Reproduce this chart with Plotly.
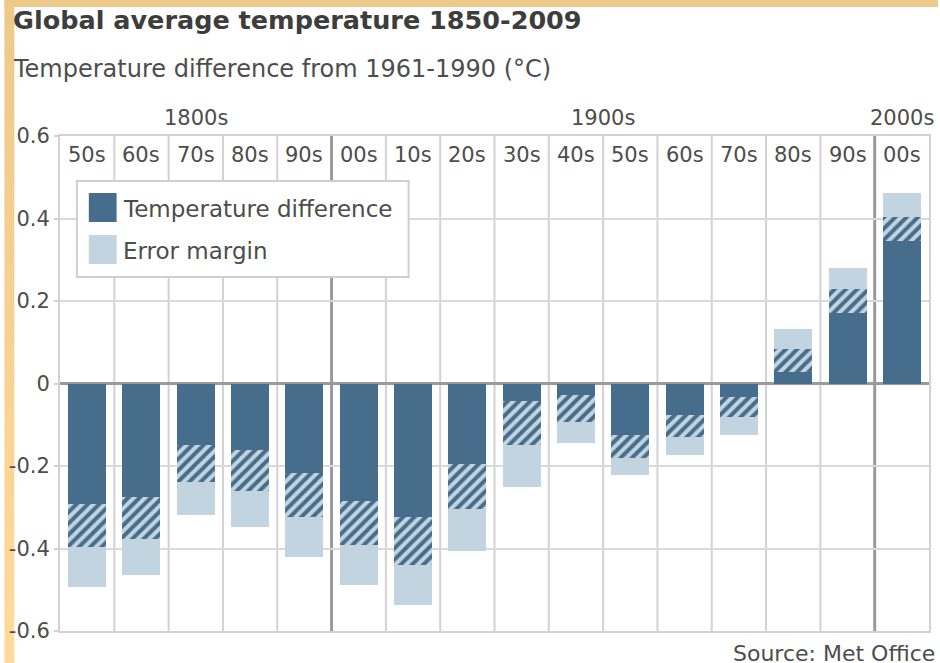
import plotly.graph_objects as go

# ---------------- data ----------------
decades = ["50s", "60s", "70s", "80s", "90s", "00s", "10s", "20s", "30s",
           "40s", "50s", "60s", "70s", "80s", "90s", "00s"]
century_of = ["1800s"] * 5 + ["1900s"] * 10 + ["2000s"]
temp_diff = [-0.397, -0.378, -0.238, -0.261, -0.324, -0.391, -0.441, -0.304,
             -0.149, -0.093, -0.180, -0.130, -0.081, 0.083, 0.229, 0.403]
err_low = [-0.494, -0.464, -0.319, -0.348, -0.421, -0.489, -0.537, -0.407,
           -0.251, -0.144, -0.222, -0.174, -0.124, 0.029, 0.172, 0.346]
err_high = [-0.291, -0.276, -0.149, -0.160, -0.218, -0.285, -0.324, -0.194,
            -0.043, -0.028, -0.125, -0.077, -0.033, 0.132, 0.281, 0.461]
y_ticks = [0.6, 0.4, 0.2, 0, -0.2, -0.4, -0.6]
y_tick_labels = ["0.6", "0.4", "0.2", "0", "-0.2", "-0.4", "-0.6"]
legend_labels = ["Temperature difference", "Error margin"]

# ---------------- style ----------------
DARK = "#476d8c"
LIGHT = "#c2d4df"
FONT = "DejaVu Sans"
TXT = "#4d4d4d"
W, H = 940, 663
L, R, T, B = 56, 9, 136, 32
PW, PH = W - L - R, H - T - B


def px_x(px):
    return (px - L) / PW


def px_y(py):
    return (H - B - py) / PH


xs = list(range(len(decades)))
near = [hi if v < 0 else lo for v, lo, hi in zip(temp_diff, err_low, err_high)]
far = [lo if v < 0 else hi for v, lo, hi in zip(temp_diff, err_low, err_high)]

fig = go.Figure()
# solid part of the temperature bar (outside the error band)
fig.add_trace(go.Bar(x=xs, y=near, base=[0] * len(xs), width=0.7,
                     marker=dict(color=DARK, line=dict(width=0)),
                     showlegend=False, hoverinfo="skip"))
# overlap of bar and error band: hatched
fig.add_trace(go.Bar(x=xs, y=[v - n for v, n in zip(temp_diff, near)], base=near,
                     width=0.7,
                     marker=dict(color=LIGHT, line=dict(width=0),
                                 pattern=dict(shape="/", fgcolor=DARK, bgcolor=LIGHT,
                                              size=8, solidity=0.5, fillmode="replace")),
                     showlegend=False, hoverinfo="skip"))
# remaining error margin
fig.add_trace(go.Bar(x=xs, y=[f - v for f, v in zip(far, temp_diff)], base=temp_diff,
                     width=0.7, marker=dict(color=LIGHT, line=dict(width=0)),
                     showlegend=False, hoverinfo="skip"))

shapes = []
# left/top orange frame
shapes.append(dict(type="rect", xref="paper", yref="paper", x0=px_x(0), x1=px_x(W),
                   y0=px_y(7), y1=px_y(0), fillcolor="#edc98a", line=dict(width=0),
                   layer="below"))
n_steps = 40
c0 = (0xed, 0xc9, 0x8a)
c1 = (0xff, 0xda, 0x9a)
for k in range(n_steps):
    t = k / (n_steps - 1)
    col = "rgb(%d,%d,%d)" % tuple(round(a + (b - a) * t) for a, b in zip(c0, c1))
    shapes.append(dict(type="rect", xref="paper", yref="paper", x0=px_x(0), x1=px_x(10),
                       y0=px_y(H * (k + 1) / n_steps + 0.5), y1=px_y(H * k / n_steps),
                       fillcolor=col, line=dict(width=0), layer="below"))

# column dividers
for i in range(1, len(decades)):
    is_century = century_of[i] != century_of[i - 1]
    shapes.append(dict(type="line", xref="x", yref="paper", x0=i - 0.5, x1=i - 0.5,
                       y0=0, y1=1, layer="below",
                       line=dict(color="#9a9a9a" if is_century else "#d2d2d2",
                                 width=3 if is_century else 2)))

# manual legend
shapes.append(dict(type="rect", xref="paper", yref="paper", x0=px_x(73), x1=px_x(407),
                   y0=px_y(277), y1=px_y(181), fillcolor="white",
                   line=dict(color="#cfcfcf", width=2), layer="above"))
annotations = []
for j, (lab, col) in enumerate(zip(legend_labels, [DARK, LIGHT])):
    top = 193 + j * 42
    shapes.append(dict(type="rect", xref="paper", yref="paper", x0=px_x(85), x1=px_x(113),
                       y0=px_y(top + 29), y1=px_y(top), fillcolor=col,
                       line=dict(width=0), layer="above"))
    annotations.append(dict(text=lab, xref="paper", yref="paper", x=px_x(117),
                            y=px_y(top + 16), xanchor="left", yanchor="middle",
                            showarrow=False, font=dict(family=FONT, size=23, color=TXT)))

# decade labels inside the top row of the grid
for i, d in enumerate(decades):
    annotations.append(dict(text=d, xref="x", yref="paper", x=i, y=px_y(155),
                            xanchor="center", yanchor="middle", showarrow=False,
                            font=dict(family=FONT, size=21, color=TXT)))

# century labels
for c in dict.fromkeys(century_of):
    idx = [i for i, cc in enumerate(century_of) if cc == c]
    annotations.append(dict(text=c, xref="x", yref="paper", x=sum(idx) / len(idx),
                            y=px_y(118), xanchor="center", yanchor="middle",
                            showarrow=False, font=dict(family=FONT, size=21, color=TXT)))

# titles and source
annotations.append(dict(text="<b>Global average temperature 1850-2009</b>", xref="paper",
                        yref="paper", x=px_x(7), y=px_y(20), xanchor="left",
                        yanchor="middle", showarrow=False,
                        font=dict(family=FONT, size=25.5, color="#3d3d3d")))
annotations.append(dict(text="Temperature difference from 1961-1990 (°C)", xref="paper",
                        yref="paper", x=px_x(7), y=px_y(69), xanchor="left",
                        yanchor="middle", showarrow=False,
                        font=dict(family=FONT, size=24, color=TXT)))
annotations.append(dict(text="Source: Met Office", xref="paper", yref="paper",
                        x=px_x(939), y=px_y(653), xanchor="right", yanchor="middle",
                        showarrow=False, font=dict(family=FONT, size=22, color=TXT)))

fig.update_layout(
    width=W, height=H, margin=dict(l=L, r=R, t=T, b=B),
    paper_bgcolor="white", plot_bgcolor="white",
    barmode="overlay", bargap=0,
    shapes=shapes, annotations=annotations,
    font=dict(family=FONT, color=TXT),
    xaxis=dict(side="top", range=[-0.5, len(decades) - 0.5], tickmode="array",
               tickvals=xs, showticklabels=False,
               showgrid=False, zeroline=False, ticks="", showline=True, mirror=True,
               linecolor="#d2d2d2", linewidth=2, fixedrange=True),
    yaxis=dict(range=[-0.6, 0.6], tickmode="array", tickvals=y_ticks,
               ticktext=y_tick_labels, tickfont=dict(family=FONT, size=21, color=TXT),
               showgrid=True, gridcolor="#dadada", gridwidth=2,
               zeroline=True, zerolinecolor="#9a9a9a", zerolinewidth=3,
               showline=True, mirror=True, linecolor="#d2d2d2", linewidth=2,
               ticks="outside", ticklen=4, tickcolor="#d2d2d2", tickwidth=2,
               fixedrange=True),
)

fig.write_html("out.html", config={"displayModeBar": False},
               post_script="document.body.style.margin='0';")
